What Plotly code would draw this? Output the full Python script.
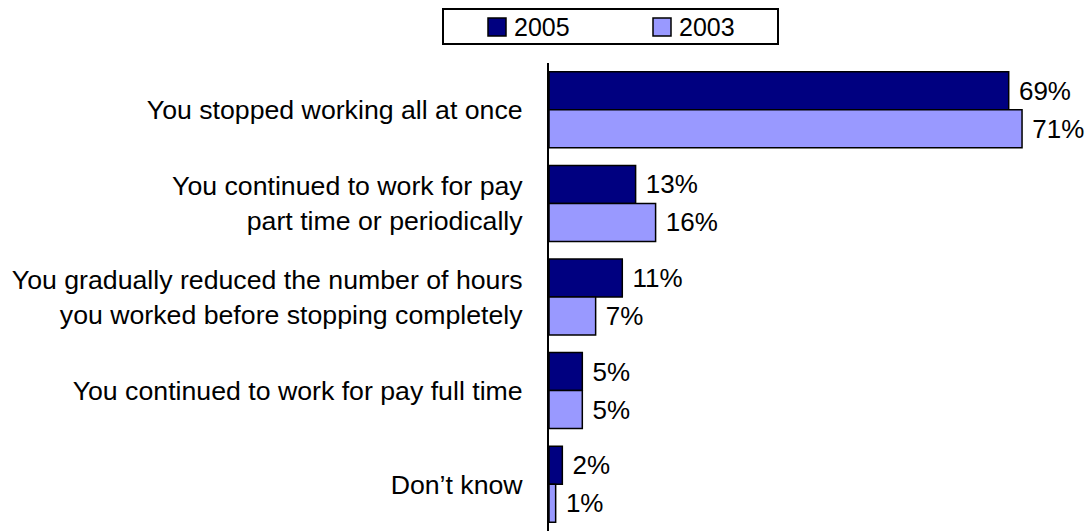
import plotly.graph_objects as go

# Survey responses: how people stopped working
categories = [
    "You stopped working all at once",
    "You continued to work for pay<br>part time or periodically",
    "You gradually reduced the number of hours<br>you worked before stopping completely",
    "You continued to work for pay full time",
    "Don’t know",
]
values_2005 = [69, 13, 11, 5, 2]
values_2003 = [71, 16, 7, 5, 1]
series_names = ["2005", "2003"]

FONT = "Liberation Sans, Arial, sans-serif"
COLOR_2005 = "#000080"
COLOR_2003 = "#9999FF"

W, H = 1087, 531
M_L, M_R, M_T, M_B = 549, 5, 63, 0
PLOT_W = W - M_L - M_R
PLOT_H = H - M_T - M_B


def px_x(px):
    """Pixel column -> paper x."""
    return (px - M_L) / PLOT_W


def px_y(py):
    """Pixel row (from top) -> paper y."""
    return (H - M_B - py) / PLOT_H


fig = go.Figure()
for name, vals, col in [(series_names[0], values_2005, COLOR_2005),
                        (series_names[1], values_2003, COLOR_2003)]:
    fig.add_trace(go.Bar(
        name=name, y=categories, x=vals, orientation="h",
        marker=dict(color=col, line=dict(color="#000000", width=1.5)),
        texttemplate=" %{x}%", textposition="outside", constraintext="none",
        textfont=dict(family=FONT, size=26, color="#000000"), cliponaxis=False,
        showlegend=False,
    ))

# Boxed legend above the bars
shapes = [dict(type="rect", xref="paper", yref="paper",
               x0=px_x(443), x1=px_x(778), y0=px_y(44), y1=px_y(9),
               line=dict(color="#000000", width=2), fillcolor="white", layer="above")]
annotations = []
for name, col, sq_left in [(series_names[0], COLOR_2005, 488),
                           (series_names[1], COLOR_2003, 653)]:
    shapes.append(dict(type="rect", xref="paper", yref="paper",
                       x0=px_x(sq_left), x1=px_x(sq_left + 18),
                       y0=px_y(36), y1=px_y(18),
                       line=dict(color="#000000", width=1.5), fillcolor=col, layer="above"))
    annotations.append(dict(text=name, xref="paper", yref="paper",
                            x=px_x(sq_left + 24), y=px_y(27),
                            xanchor="left", yanchor="middle", showarrow=False,
                            font=dict(family=FONT, size=25, color="#000000")))

fig.update_layout(
    width=W, height=H,
    margin=dict(l=M_L, r=M_R, t=M_T, b=M_B),
    paper_bgcolor="white", plot_bgcolor="white",
    barmode="group", bargap=0.188, bargroupgap=0,
    font=dict(family=FONT, size=26, color="#000000"),
    showlegend=False,
    shapes=shapes,
    annotations=annotations,
    xaxis=dict(range=[0, 80], visible=False, fixedrange=True),
    yaxis=dict(
        autorange="reversed", showline=True, linecolor="#000000", linewidth=2,
        ticks="", showgrid=False, zeroline=False, ticklabelstandoff=19,
        tickfont=dict(family=FONT, size=26.7, color="#000000"),
    ),
)

fig.write_html("out.html")
